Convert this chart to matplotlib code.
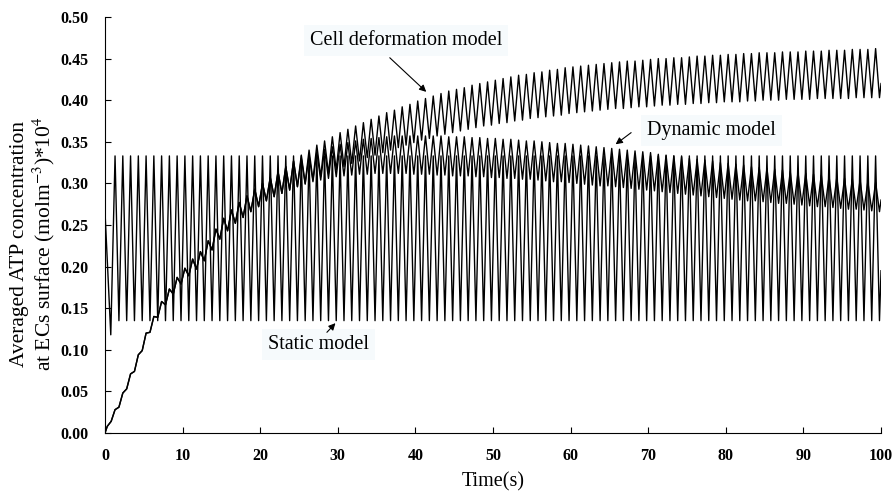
import numpy as np
import matplotlib
matplotlib.use("Agg")
import matplotlib.pyplot as plt

plt.rcParams["font.family"] = ["Liberation Serif", "DejaVu Serif"]
plt.rcParams["mathtext.fontset"] = "stix"

# each 1 s cycle: peak at k+0.3 s, trough at k+0.8 s
period = 1.0
peak_phase = 0.3
trough_phase = 0.8
t_end = 100

# static model: start value, first dip, then cycles 1..99, end value
static_start = [0.267, 0.118]
static_start_t = [0.0, 0.75]
static_peak = [
    0.333, 0.333, 0.333, 0.333, 0.333, 0.333, 0.333, 0.333, 0.333, 0.333, 0.333,
    0.333, 0.333, 0.333, 0.333, 0.333, 0.333, 0.333, 0.333, 0.333, 0.333, 0.333,
    0.333, 0.333, 0.333, 0.333, 0.333, 0.333, 0.333, 0.333, 0.333, 0.333, 0.333,
    0.333, 0.333, 0.333, 0.333, 0.333, 0.333, 0.333, 0.333, 0.333, 0.333, 0.333,
    0.333, 0.333, 0.333, 0.333, 0.333, 0.333, 0.333, 0.333, 0.333, 0.333, 0.333,
    0.333, 0.333, 0.333, 0.333, 0.333, 0.333, 0.333, 0.333, 0.333, 0.333, 0.333,
    0.333, 0.333, 0.333, 0.333, 0.333, 0.333, 0.333, 0.333, 0.333, 0.333, 0.333,
    0.333, 0.333, 0.333, 0.333, 0.333, 0.333, 0.333, 0.333, 0.333, 0.333, 0.333,
    0.333, 0.333, 0.333, 0.333, 0.333, 0.333, 0.333, 0.333, 0.333, 0.333, 0.333,
]
static_trough = [
    0.135, 0.135, 0.135, 0.135, 0.135, 0.135, 0.135, 0.135, 0.135, 0.135, 0.135,
    0.135, 0.135, 0.135, 0.135, 0.135, 0.135, 0.135, 0.135, 0.135, 0.135, 0.135,
    0.135, 0.135, 0.135, 0.135, 0.135, 0.135, 0.135, 0.135, 0.135, 0.135, 0.135,
    0.135, 0.135, 0.135, 0.135, 0.135, 0.135, 0.135, 0.135, 0.135, 0.135, 0.135,
    0.135, 0.135, 0.135, 0.135, 0.135, 0.135, 0.135, 0.135, 0.135, 0.135, 0.135,
    0.135, 0.135, 0.135, 0.135, 0.135, 0.135, 0.135, 0.135, 0.135, 0.135, 0.135,
    0.135, 0.135, 0.135, 0.135, 0.135, 0.135, 0.135, 0.135, 0.135, 0.135, 0.135,
    0.135, 0.135, 0.135, 0.135, 0.135, 0.135, 0.135, 0.135, 0.135, 0.135, 0.135,
    0.135, 0.135, 0.135, 0.135, 0.135, 0.135, 0.135, 0.135, 0.135, 0.135, 0.135,
]
static_end = 0.195

# dynamic and cell deformation models share cycles 0..24
early_peak = [0.008, 0.028, 0.048, 0.071, 0.094, 0.120, 0.140, 0.158, 0.173, 0.187,
              0.198, 0.209, 0.218, 0.231, 0.245, 0.258, 0.268, 0.277, 0.285, 0.293,
              0.300, 0.307, 0.314, 0.320, 0.327]
early_trough = [0.014, 0.031, 0.053, 0.074, 0.099, 0.121, 0.139, 0.154, 0.167, 0.179,
                0.189, 0.197, 0.207, 0.220, 0.233, 0.243, 0.252, 0.259, 0.266, 0.272,
                0.279, 0.284, 0.288, 0.292, 0.296]

# cell deformation model, cycles 25..99
cell_peak = [0.334, 0.340, 0.346, 0.351, 0.356, 0.361, 0.365, 0.369, 0.373, 0.377,
             0.381, 0.385, 0.388, 0.392, 0.395, 0.399, 0.402, 0.405, 0.408, 0.411,
             0.413, 0.415, 0.418, 0.420, 0.422, 0.424, 0.426, 0.428, 0.430, 0.431,
             0.433, 0.434, 0.436, 0.437, 0.439, 0.440, 0.441, 0.442, 0.443, 0.444,
             0.445, 0.446, 0.447, 0.447, 0.448, 0.449, 0.450, 0.450, 0.451, 0.451,
             0.452, 0.453, 0.453, 0.454, 0.454, 0.455, 0.455, 0.456, 0.456, 0.457,
             0.457, 0.457, 0.458, 0.458, 0.458, 0.459, 0.459, 0.459, 0.460, 0.460,
             0.460, 0.461, 0.461, 0.461, 0.462]
cell_trough = [0.300, 0.304, 0.308, 0.312, 0.316, 0.320, 0.324, 0.327, 0.331, 0.334,
               0.337, 0.340, 0.343, 0.346, 0.349, 0.352, 0.354, 0.357, 0.359, 0.361,
               0.363, 0.365, 0.367, 0.369, 0.370, 0.372, 0.373, 0.375, 0.376, 0.378,
               0.379, 0.380, 0.381, 0.382, 0.384, 0.385, 0.386, 0.387, 0.388, 0.389,
               0.390, 0.390, 0.391, 0.392, 0.392, 0.393, 0.394, 0.394, 0.395, 0.395,
               0.396, 0.396, 0.397, 0.397, 0.398, 0.398, 0.398, 0.399, 0.399, 0.400,
               0.400, 0.400, 0.401, 0.401, 0.401, 0.401, 0.402, 0.402, 0.402, 0.402,
               0.402, 0.403, 0.403, 0.403, 0.403]
cell_end = 0.420

# dynamic model, cycles 25..99
dyn_peak = [0.330, 0.334, 0.338, 0.341, 0.344, 0.347, 0.349, 0.351, 0.353, 0.354,
            0.355, 0.356, 0.357, 0.357, 0.357, 0.357, 0.357, 0.357, 0.357, 0.356,
            0.356, 0.356, 0.355, 0.355, 0.354, 0.354, 0.353, 0.353, 0.352, 0.351,
            0.351, 0.350, 0.349, 0.348, 0.348, 0.347, 0.346, 0.345, 0.344, 0.343,
            0.342, 0.341, 0.340, 0.339, 0.338, 0.337, 0.335, 0.334, 0.333, 0.332,
            0.330, 0.329, 0.328, 0.327, 0.325, 0.324, 0.323, 0.322, 0.320, 0.319,
            0.318, 0.317, 0.316, 0.314, 0.313, 0.312, 0.311, 0.310, 0.308, 0.307,
            0.306, 0.305, 0.304, 0.302, 0.301]
dyn_trough = [0.299, 0.302, 0.304, 0.306, 0.308, 0.309, 0.310, 0.311, 0.311, 0.312,
              0.312, 0.312, 0.312, 0.312, 0.311, 0.311, 0.311, 0.310, 0.310, 0.309,
              0.309, 0.309, 0.308, 0.308, 0.307, 0.307, 0.306, 0.306, 0.305, 0.305,
              0.304, 0.303, 0.302, 0.302, 0.301, 0.300, 0.299, 0.298, 0.297, 0.297,
              0.296, 0.295, 0.294, 0.293, 0.292, 0.291, 0.290, 0.289, 0.288, 0.287,
              0.286, 0.285, 0.284, 0.283, 0.282, 0.281, 0.280, 0.279, 0.279, 0.278,
              0.277, 0.276, 0.276, 0.275, 0.274, 0.273, 0.272, 0.272, 0.271, 0.270,
              0.269, 0.269, 0.268, 0.267, 0.266]
dyn_end = 0.280


def zigzag(first_cycle, peaks, troughs):
    t, v = [], []
    for i, (p, q) in enumerate(zip(peaks, troughs)):
        k = first_cycle + i
        t += [k * period + peak_phase, k * period + trough_phase]
        v += [p, q]
    return t, v


st_t, st_v = zigzag(1, static_peak, static_trough)
st_t = static_start_t + st_t + [t_end]
st_v = static_start + st_v + [static_end]

ce_t, ce_v = zigzag(0, early_peak + cell_peak, early_trough + cell_trough)
ce_t = [0.0] + ce_t + [t_end]
ce_v = [0.0] + ce_v + [cell_end]

dy_t, dy_v = zigzag(0, early_peak + dyn_peak, early_trough + dyn_trough)
dy_t = [0.0] + dy_t + [t_end]
dy_v = [0.0] + dy_v + [dyn_end]

fig = plt.figure(figsize=(8.94, 4.95), dpi=100)
ax = fig.add_axes([0.1174, 0.1253, 0.8681, 0.8404])

ax.plot(st_t, st_v, color="black", lw=1.0)
ax.plot(dy_t, dy_v, color="black", lw=1.0)
ax.plot(ce_t, ce_v, color="black", lw=1.0)

ax.set_xlim(0, 100)
ax.set_ylim(0, 0.5)
ax.set_xticks(np.arange(0, 101, 10))
ax.set_yticks(np.arange(0, 0.51, 0.05))
ax.set_yticklabels(["%.2f" % y for y in np.arange(0, 0.51, 0.05)])
ax.spines["top"].set_visible(False)
ax.spines["right"].set_visible(False)
ax.tick_params(direction="in", length=4, width=0.8, labelsize=11.5)
ax.tick_params(axis="x", pad=11)
ax.tick_params(axis="y", pad=12)
for lab in ax.get_xticklabels() + ax.get_yticklabels():
    lab.set_fontweight("bold")

ax.set_xlabel("Time(s)", fontsize=14.5, labelpad=6)
ax.set_ylabel("Averaged ATP concentration\nat ECs surface (molm$^{-3}$)*10$^{4}$",
              fontsize=15.5, linespacing=1.05)
ax.yaxis.set_label_coords(-0.062, 0.455)

box = dict(boxstyle="square,pad=0.3", facecolor="#f6fafc", edgecolor="none")
arrow = dict(arrowstyle="-|>", color="black", lw=0.8, mutation_scale=10,
             shrinkA=0, shrinkB=0)

ax.text(38.8, 0.472, "Cell deformation model", fontsize=14.5, ha="center",
        va="center", bbox=box)
ax.annotate("", xy=(41.4, 0.410), xytext=(36.7, 0.451), arrowprops=arrow)

ax.text(78.1, 0.364, "Dynamic model", fontsize=14.5, ha="center",
        va="center", bbox=box)
ax.annotate("", xy=(65.8, 0.347), xytext=(67.8, 0.361), arrowprops=arrow)

ax.text(27.5, 0.106, "Static model", fontsize=14.5, ha="center",
        va="center", bbox=box)
ax.annotate("", xy=(29.7, 0.132), xytext=(28.6, 0.121), arrowprops=arrow)

fig.savefig("out.png", dpi=100)
